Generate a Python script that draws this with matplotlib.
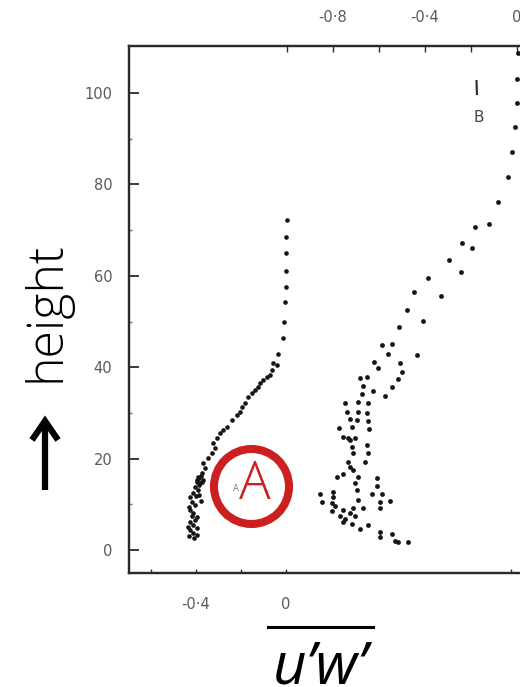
import matplotlib
matplotlib.use('Agg')
import matplotlib.pyplot as plt
from matplotlib.patches import Ellipse
from matplotlib.lines import Line2D

# profile A (lower axis): u'w' vs height
a_uw = [0.003, 0.001, 0.0, -0.002, 0.0, -0.004, -0.007, -0.015, -0.036, -0.041,
        -0.058, -0.064, -0.071, -0.086, -0.102, -0.116, -0.124, -0.138, -0.152, -0.169,
        -0.182, -0.197, -0.204, -0.219, -0.241, -0.264, -0.280, -0.293, -0.308, -0.324,
        -0.316, -0.330, -0.347, -0.369, -0.360, -0.375, -0.391, -0.369, -0.382, -0.397,
        -0.404, -0.391, -0.413, -0.427, -0.419, -0.404, -0.427, -0.413, -0.397, -0.427,
        -0.413, -0.397, -0.427, -0.413, -0.397,
        -0.385, -0.378, -0.395, -0.372, -0.388, -0.433, -0.400, -0.420, -0.435, -0.405,
        -0.430, -0.410, -0.385, -0.380]
a_z = [72.2, 68.5, 65.0, 61.1, 57.5, 54.3, 49.9, 46.4, 42.9, 40.5,
       40.9, 39.4, 38.3, 37.9, 37.2, 36.5, 35.7, 35.0, 34.4, 33.5,
       32.2, 31.3, 30.2, 29.5, 28.4, 26.9, 26.3, 25.6, 24.5, 23.4,
       22.3, 21.2, 20.1, 19.0, 17.9, 16.8, 16.0, 15.3, 14.7, 14.9,
       13.8, 13.1, 12.5, 11.6, 10.5, 9.8, 8.8, 8.1, 7.2, 6.1,
       5.5, 4.8, 4.4, 3.7, 3.3,
       15.8, 16.2, 15.4, 14.9, 14.2, 9.5, 11.8, 7.5, 5.0, 6.7,
       3.0, 2.6, 12.0, 10.8]

# profile B (upper axis)
b_uw = [0.004, -0.001, -0.001, -0.009, -0.023, -0.040, -0.083, -0.122, -0.183, -0.240,
        -0.196, -0.296, -0.243, -0.387, -0.448, -0.332, -0.478, -0.409, -0.513, -0.545,
        -0.588, -0.561, -0.436, -0.622, -0.509, -0.604, -0.501, -0.683, -0.653, -0.519,
        -0.670, -0.545, -0.626, -0.675, -0.574, -0.748, -0.691, -0.648, -0.740, -0.691,
        -0.653, -0.726, -0.697, -0.648, -0.774, -0.719, -0.643, -0.757, -0.735, -0.704,
        -0.726, -0.653, -0.719, -0.713, -0.648, -0.735, -0.726, -0.661, -0.713, -0.784,
        -0.758, -0.691, -0.609, -0.704, -0.610, -0.697, -0.857, -0.800, -0.632, -0.588,
        -0.800, -0.849, -0.691, -0.596, -0.552, -0.806, -0.791, -0.670, -0.713, -0.596,
        -0.757, -0.806, -0.726, -0.770, -0.704, -0.748, -0.757, -0.719, -0.648, -0.683,
        -0.596, -0.596, -0.545, -0.530, -0.517, -0.474]
b_z = [108.8, 103.0, 97.8, 92.6, 87.1, 81.6, 76.1, 71.3, 70.6, 67.2,
       66.1, 63.5, 60.8, 59.5, 56.5, 55.6, 52.5, 50.1, 48.8, 45.1,
       44.9, 42.9, 42.7, 41.2, 40.9, 39.8, 39.0, 37.6, 37.9, 37.4,
       35.9, 35.7, 34.8, 34.1, 33.7, 32.2, 32.4, 32.2, 30.2, 30.2,
       30.0, 28.7, 28.4, 28.2, 26.7, 26.9, 26.5, 24.7, 24.5, 24.5,
       24.1, 23.0, 22.5, 21.2, 21.2, 19.3, 18.2, 19.3, 17.5, 16.0,
       16.6, 16.0, 15.8, 14.7, 14.0, 13.1, 12.3, 12.7, 12.3, 12.3,
       11.6, 10.5, 10.9, 10.5, 10.7, 10.3, 9.6, 9.2, 9.2, 9.2,
       8.8, 8.5, 8.1, 7.4, 7.4, 6.8, 6.1, 5.7, 5.5, 4.6,
       3.9, 2.8, 3.5, 2.0, 1.8, 1.8]

y_ticks = [0, 20, 40, 60, 80, 100]
y_labels = ['0', '20', '40', '60', '80', '100']
bottom_ticks = [-0.6, -0.4, -0.2, 0.0, 1.0]
bottom_labels = ['', '-0·4', '', '0', '']
top_ticks = [-1.0, -0.8, -0.6, -0.4, -0.2, 0.0]
top_labels = ['', '-0·8', '', '-0·4', '', '0']

W, H = 520, 687
fig = plt.figure(figsize=(W / 100, H / 100), dpi=100)
fig.patch.set_facecolor('white')

# frame runs past the right edge of the page
ax = fig.add_axes([129 / W, 114 / H, 471 / W, 527 / H])
ax.set_xlim(-0.698, 1.396)
ax.set_ylim(-5.0, 110.3)
axt = ax.twiny()
axt.set_xlim(-1.687, 0.361)

frame = '#2a2a2a'
tick_col = '#5a5a5a'
for a in (ax, axt):
    for s in a.spines.values():
        s.set_color(frame)
        s.set_linewidth(1.6)
    a.spines['right'].set_visible(False)

ax.scatter(a_uw, a_z, s=11, color='#151515', linewidths=0, zorder=3)
axt.scatter(b_uw, b_z, s=12, color='#151515', linewidths=0, zorder=3)

ax.set_yticks(y_ticks)
ax.set_yticklabels(y_labels)
ax.set_yticks([10, 30, 50, 70, 90], minor=True)
ax.set_xticks(bottom_ticks)
ax.set_xticklabels(bottom_labels)
ax.tick_params(axis='y', which='major', direction='in', length=7, width=1.3,
               color=frame, pad=12, labelsize=10.5, labelcolor=tick_col)
ax.tick_params(axis='y', which='minor', direction='in', length=2, width=1.0, color='#777777')
ax.tick_params(axis='x', direction='in', length=3, width=1.0, color=frame,
               pad=17, labelsize=10.5, labelcolor=tick_col)

axt.set_xticks(top_ticks)
axt.set_xticklabels(top_labels)
axt.tick_params(axis='x', direction='in', length=4, width=1.0, color=frame,
                pad=15, labelsize=10.5, labelcolor=tick_col)

# profile B marker
axt.plot([-0.176, -0.174], [102.6, 99.8], color='#333333', lw=1.6)
axt.text(-0.168, 94.7, 'B', fontsize=11, color='#444444', ha='center', va='center')
ax.text(-0.225, 13.5, 'A', fontsize=6, color='#777777', ha='center', va='center')

# annotation ring
fig.patches.append(Ellipse((251.5 / W, 1 - 486.5 / H), 75 / W, 75 / H,
                           transform=fig.transFigure, fill=False,
                           edgecolor='#cc2020', linewidth=5.8))
fig.text(255 / W, 1 - 485 / H, 'A', fontsize=38, color='#cc2020', weight='light',
         family=['Open Sans', 'DejaVu Sans'], ha='center', va='center')

# vertical axis title
fig.text(46 / W, 1 - 312 / H, 'height', rotation=90, fontsize=36, weight='light',
         family=['Open Sans', 'DejaVu Sans'], ha='center', va='center', color='black')
fig.add_artist(Line2D([45 / W, 45 / W], [1 - 490 / H, 1 - 422 / H],
                      transform=fig.transFigure, color='black', lw=4.5,
                      solid_capstyle='butt'))
fig.add_artist(Line2D([32 / W, 45 / W, 58 / W], [1 - 440 / H, 1 - 421 / H, 1 - 440 / H],
                      transform=fig.transFigure, color='black', lw=4.5,
                      solid_joinstyle='miter', solid_capstyle='butt'))

# horizontal axis title with overbar
fig.text(320 / W, 1 - 684 / H, 'u’w’', fontsize=42, style='italic',
         family=['Open Sans', 'DejaVu Sans'], ha='center', va='baseline', color='black')
fig.add_artist(Line2D([268 / W, 373 / W], [1 - 627 / H, 1 - 627 / H],
                      transform=fig.transFigure, color='black', lw=2.2))

fig.savefig('out.png', dpi=100, facecolor='white')
